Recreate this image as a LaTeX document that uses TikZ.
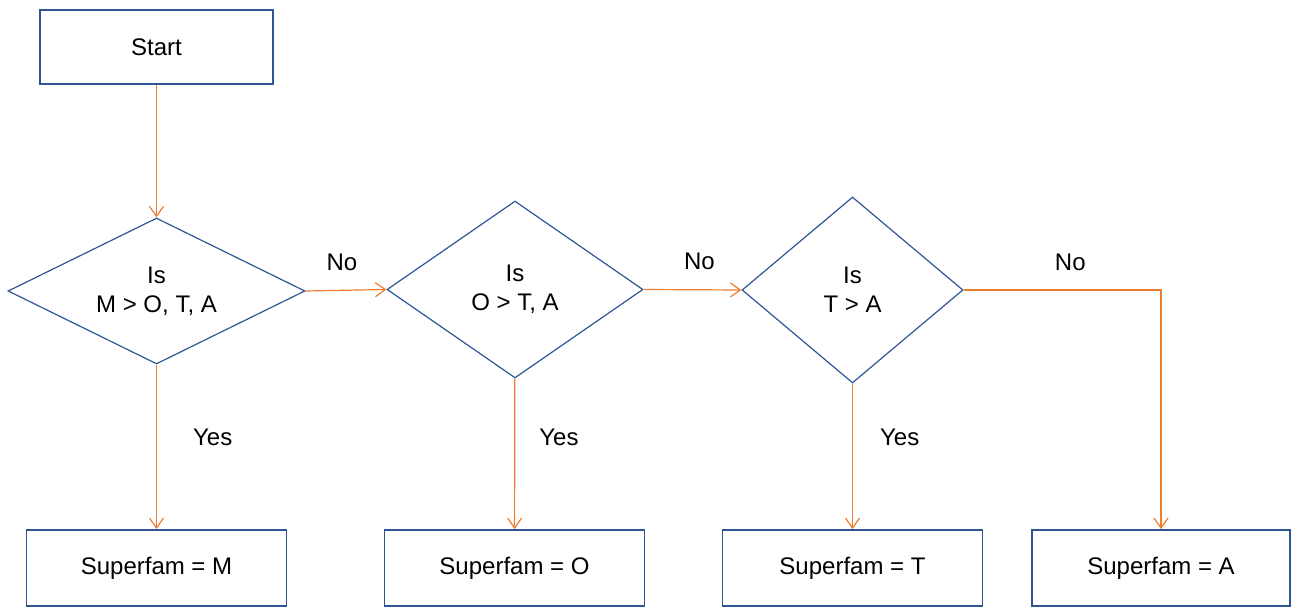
\documentclass[tikz,border=0pt]{standalone}
\usepackage{fontspec}
\setmainfont{Liberation Sans}
\usetikzlibrary{shapes.geometric, arrows.meta}
\definecolor{boxblue}{RGB}{47,85,151}
\definecolor{floworange}{RGB}{237,125,49}

\begin{document}
\begin{tikzpicture}[x=0.5pt, y=-0.5pt,
    box/.style={draw=boxblue, line width=0.9pt, minimum width=130pt, minimum height=38pt,
      inner sep=0pt, font=\fontsize{12}{14.5}\selectfont},
    test/.style={diamond, draw=boxblue, line width=0.6pt, align=center, inner sep=0pt,
      font=\fontsize{12}{14.5}\selectfont},
    flow/.style={draw=floworange, line width=0.6pt, -{Straight Barb[length=5pt,width=7pt]}},
    lbl/.style={inner sep=0pt, font=\fontsize{12}{14.5}\selectfont}]
  \useasboundingbox (0,0) rectangle (1294,608);

  % start and the three tests
  \node[box, minimum width=116.5pt, minimum height=37pt] (start) at (156.5,47) {Start};
  \node[test, shape aspect=2, minimum width=148.5pt, minimum height=73pt] (isM) at (156.5,291) {Is\\M > O, T, A};
  \node[test, shape aspect=1.5, minimum width=128pt, minimum height=88.5pt] (isO) at (515,289.5) {Is\\O > T, A};
  \node[test, shape aspect=1, minimum width=110.5pt, minimum height=93pt] (isT) at (852.5,290) {Is\\T > A};

  % results
  \node[box] (famM) at (156.5,568) {Superfam = M};
  \node[box] (famO) at (514.5,568) {Superfam = O};
  \node[box] (famT) at (852.5,568) {Superfam = T};
  \node[box, minimum width=129pt] (famA) at (1161,568) {Superfam = A};

  % connectors
  \draw[flow] (start) -- (isM);
  \draw[flow] (isM) -- node[lbl, pos=0.44, right=18pt] (yesM) {Yes} (famM);
  \draw[flow] (isO) -- node[lbl, pos=0.39, right=12pt] (yesO) {Yes} (famO);
  \draw[flow] (isT) -- node[lbl, pos=0.37, right=13.5pt] (yesT) {Yes} (famT);
  \draw[flow] (isM.east) -- node[lbl, midway, above=9.5pt, xshift=-2pt] (noM) {No} (isO.west);
  \draw[flow] (isO.east) -- node[lbl, midway, above=9.5pt, xshift=3.5pt] (noO) {No} (isT.west);
  \draw[flow] (isT.east) -| node[lbl, pos=0.25, above=9.5pt, xshift=4pt] (noT) {No} (famA);
\end{tikzpicture}
\end{document}
